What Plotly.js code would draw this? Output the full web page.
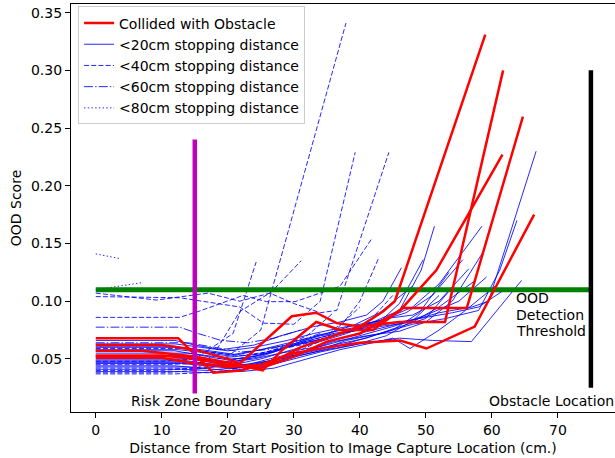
<!DOCTYPE html>
<html>
<head>
<meta charset="utf-8">
<script src="https://cdn.plot.ly/plotly-3.0.1.min.js"></script>
<style>html,body{margin:0;padding:0;background:#fff;}#chart{width:615px;height:458px;}</style>
</head>
<body>
<div id="chart"></div>
<script>
// ---- Data ----
const legendNames = ["Collided with Obstacle", "<20cm stopping distance", "<40cm stopping distance", "<60cm stopping distance", "<80cm stopping distance"];

const redX = [
  [0,12.5,17.8,22,27,31,35,40,43.5,45.3,59],
  [0,10,15,20,21.8,29.7,33.4,36.5,40,46,52.9,61.7],
  [0,7,15,20,25.3,28.3,31.9,33.4,37,42,46.5,56.2,64.7],
  [0,10,15,20,25,30,35,40,46.1,51.6,61.6],
  [0,10,15,20,25,30,35,40,46.1,50.1,57.4,66.4]
];
const redY = [
  [0.068,0.068,0.038,0.040,0.048,0.060,0.068,0.078,0.091,0.100,0.331],
  [0.062,0.062,0.058,0.050,0.046,0.087,0.090,0.081,0.078,0.082,0.082,0.300],
  [0.057,0.057,0.052,0.047,0.040,0.058,0.075,0.082,0.075,0.075,0.094,0.094,0.260],
  [0.053,0.053,0.050,0.045,0.042,0.052,0.065,0.072,0.092,0.127,0.227],
  [0.051,0.051,0.046,0.043,0.045,0.055,0.060,0.064,0.066,0.059,0.078,0.175]
];

const solidX = [
  [0,12,15,20,24,28,33,37,42,47,52,57,59.5,66.7],
  [0,13,16,21,25,29,34,38,43,48,53,58,61.2,63.8],
  [0,12.5,17,21,26,30,35,39,44,48,52,58.5],
  [0,12,16,20,25,30,34,38,42,46,49.3,51.3],
  [0,14,18,22,27,31,35,39,43,46,49.6],
  [0,13,17,22,26,30,35,40,46,51,56.9,64.5],
  [0,12,16,21,25,30,34,39,44,49,54,58,62.2],
  [0,13,17,21,26,31,35,40,45,50,55,59.2],
  [0,12,16,20,24,29,33,38,43,47,51,55.6],
  [0,14,18,23,27,32,36,41,46,50,54,58.6],
  [0,12,15,19,24,28,33,37,41,43.5,46.3],
  [0,13,17,22,26,31,36,41,45,49,53.5],
  [0,12,16,20,25,29,34,38,43,48,52,57.5],
  [0,14,18,22,27,32,37,42,45,47.6,52,56,60.5],
  [0,12,16,21,25,30,35,39,43,48],
  [0,13,17,21,26,30,34,39,44,48,52],
  [0,12,15,20,25,29,34,39,44,48,52,56.5],
  [0,13,17,22,27,31,36,41,45,50,54]
];
const solidY = [
  [0.052,0.052,0.050,0.047,0.050,0.055,0.060,0.068,0.075,0.082,0.090,0.095,0.100,0.230],
  [0.047,0.047,0.045,0.042,0.046,0.052,0.058,0.066,0.072,0.080,0.085,0.092,0.127,0.170],
  [0.058,0.058,0.055,0.052,0.055,0.062,0.068,0.075,0.085,0.095,0.115,0.165],
  [0.044,0.044,0.042,0.044,0.050,0.058,0.065,0.072,0.082,0.092,0.127,0.165],
  [0.055,0.055,0.052,0.050,0.056,0.064,0.070,0.074,0.082,0.098,0.136],
  [0.041,0.041,0.040,0.043,0.048,0.052,0.058,0.063,0.068,0.066,0.065,0.118],
  [0.060,0.060,0.058,0.054,0.058,0.063,0.070,0.075,0.080,0.085,0.090,0.095,0.111],
  [0.049,0.049,0.046,0.044,0.048,0.056,0.062,0.070,0.078,0.088,0.100,0.121],
  [0.063,0.063,0.060,0.057,0.060,0.066,0.072,0.078,0.083,0.090,0.105,0.136],
  [0.050,0.050,0.047,0.045,0.051,0.057,0.065,0.070,0.074,0.082,0.100,0.142],
  [0.066,0.066,0.062,0.058,0.062,0.070,0.078,0.082,0.088,0.100,0.129],
  [0.046,0.046,0.044,0.041,0.045,0.053,0.060,0.068,0.075,0.090,0.125],
  [0.053,0.053,0.050,0.047,0.052,0.060,0.067,0.073,0.078,0.082,0.095,0.118],
  [0.043,0.043,0.041,0.039,0.042,0.050,0.058,0.064,0.068,0.059,0.075,0.092,0.113],
  [0.061,0.061,0.057,0.053,0.058,0.065,0.072,0.079,0.090,0.113],
  [0.039,0.039,0.038,0.040,0.044,0.050,0.056,0.062,0.070,0.083,0.105],
  [0.057,0.057,0.054,0.049,0.053,0.061,0.071,0.077,0.085,0.088,0.100,0.128],
  [0.048,0.048,0.045,0.043,0.047,0.055,0.062,0.068,0.076,0.085,0.112]
];

const dashX = [
  [0,10,15,20,25,37.9],
  [0,12.7,21.8,25.4,30,34,39.3],
  [0,9.2,17,21.8,26.4,30,34,36.5,44.4],
  [0,12.7,15.5,22.3,25.9,30.2,37,41.9],
  [0,10,15,20,25,30,35,38,40,42.9],
  [0,10,15,18,21.8,26.6,31.1],
  [0,10,15,20.8,24.3],
  [0,12,16,20,25,30,35,40],
  [0,13,17,22,26,31,36,41,45],
  [0,12,15,20,24,28,32,36]
];
const dashY = [
  [0.045,0.045,0.046,0.052,0.075,0.341],
  [0.104,0.103,0.095,0.081,0.080,0.100,0.229],
  [0.107,0.101,0.107,0.100,0.107,0.098,0.090,0.092,0.229],
  [0.086,0.086,0.091,0.105,0.0996,0.0996,0.113,0.155],
  [0.040,0.040,0.042,0.048,0.055,0.062,0.070,0.085,0.100,0.138],
  [0.038,0.038,0.040,0.055,0.091,0.108,0.135],
  [0.048,0.048,0.050,0.072,0.134],
  [0.037,0.037,0.038,0.040,0.046,0.055,0.068,0.095],
  [0.059,0.059,0.056,0.053,0.056,0.062,0.070,0.080,0.105],
  [0.042,0.042,0.041,0.045,0.052,0.060,0.070,0.090]
];

const dashdotX = [
  [0,12.7,15.5,19,23,27,31],
  [0,14,18,22,26,30,34]
];
const dashdotY = [
  [0.0775,0.0775,0.072,0.066,0.064,0.068,0.075],
  [0.064,0.064,0.060,0.056,0.058,0.064,0.072]
];

const dotX = [
  [0,1.8,3.6],
  [0,3.5,6.9]
];
const dotY = [
  [0.141,0.139,0.137],
  [0.110,0.113,0.116]
];

const thresholdX = [0, 75];
const thresholdY = [0.11, 0.11];
const riskZoneX = [15, 15];
const riskZoneY = [0.02, 0.24];
const obstacleX = [75, 75];
const obstacleY = [0.025, 0.30];

const xTicks = [0,10,20,30,40,50,60,70];
const yTicks = [0.05,0.10,0.15,0.20,0.25,0.30,0.35];

// ---- Build traces ----
const FONT = "DejaVu Sans, Liberation Sans, sans-serif";
const BLUE = "rgba(0,0,255,0.85)";
const traces = [];

function addGroup(xs, ys, color, width, dash, name, rank) {
  xs.forEach((x, i) => {
    traces.push({
      x: x, y: ys[i], type: "scatter", mode: "lines",
      line: {color: color, width: width, dash: dash},
      name: name, showlegend: i === 0, legendrank: rank,
      hoverinfo: "skip"
    });
  });
}

addGroup(solidX, solidY, BLUE, 1, "solid", legendNames[1], 2);
addGroup(dashX, dashY, BLUE, 1, "5px,2.2px", legendNames[2], 3);
addGroup(dashdotX, dashdotY, BLUE, 1, "8.9px,2.2px,1.4px,2.2px", legendNames[3], 4);
addGroup(dotX, dotY, BLUE, 1, "1.4px,2.3px", legendNames[4], 5);

traces.push({x: thresholdX, y: thresholdY, type: "scatter", mode: "lines",
  line: {color: "#008000", width: 5}, showlegend: false, hoverinfo: "skip"});

addGroup(redX, redY, "#ff0000", 2.5, "solid", legendNames[0], 1);

traces.push({x: riskZoneX, y: riskZoneY, type: "scatter", mode: "lines",
  line: {color: "#bf00bf", width: 4.5}, showlegend: false, hoverinfo: "skip"});
traces.push({x: obstacleX, y: obstacleY, type: "scatter", mode: "lines",
  line: {color: "#000000", width: 4.5}, showlegend: false, hoverinfo: "skip"});

const annFont = {family: FONT, size: 14, color: "#000"};
const layout = {
  width: 615, height: 458,
  margin: {l: 71, r: 0, t: 4, b: 46, pad: 0},
  paper_bgcolor: "#fff", plot_bgcolor: "#fff",
  font: {family: FONT, size: 14, color: "#000"},
  xaxis: {
    range: [-3.75, 78.65], tickvals: xTicks, ticktext: xTicks.map(String),
    showgrid: false, zeroline: false, showline: true, linecolor: "#000", linewidth: 1.1,
    mirror: true, ticks: "outside", ticklen: 5, tickwidth: 1.1, tickcolor: "#000",
    tickfont: {family: FONT, size: 14, color: "#000"},
    title: {text: "Distance from Start Position to Image Capture Location (cm.)",
      font: {family: FONT, size: 14, color: "#000"}, standoff: 6}
  },
  yaxis: {
    range: [0.004, 0.3575], tickvals: yTicks, ticktext: yTicks.map(v => v.toFixed(2)),
    showgrid: false, zeroline: false, showline: true, linecolor: "#000", linewidth: 1.1,
    mirror: false, ticks: "outside", ticklen: 5, tickwidth: 1.1, tickcolor: "#000",
    tickfont: {family: FONT, size: 14, color: "#000"},
    title: {text: "OOD Score", font: {family: FONT, size: 14, color: "#000"}, standoff: 6}
  },
  legend: {
    x: 0.013, y: 0.994, xanchor: "left", yanchor: "top",
    bgcolor: "rgba(255,255,255,0.8)", bordercolor: "#cccccc", borderwidth: 1,
    font: {family: FONT, size: 14, color: "#000"}
  },
  annotations: [
    {x: 5, y: 0.0136, xref: "x", yref: "y", text: "Risk Zone Boundary", showarrow: false,
      xanchor: "left", yanchor: "middle", font: annFont},
    {x: 59.2, y: 0.0136, xref: "x", yref: "y", text: "Obstacle Location", showarrow: false,
      xanchor: "left", yanchor: "middle", font: annFont},
    {x: 63.3, y: 0.1026, xref: "x", yref: "y", text: "OOD", showarrow: false,
      xanchor: "left", yanchor: "middle", font: annFont},
    {x: 63.3, y: 0.0881, xref: "x", yref: "y", text: "Detection", showarrow: false,
      xanchor: "left", yanchor: "middle", font: annFont},
    {x: 63.3, y: 0.0743, xref: "x", yref: "y", text: "Threshold", showarrow: false,
      xanchor: "left", yanchor: "middle", font: annFont}
  ]
};

Plotly.newPlot("chart", traces, layout, {displayModeBar: false, staticPlot: true});
</script>
</body>
</html>
